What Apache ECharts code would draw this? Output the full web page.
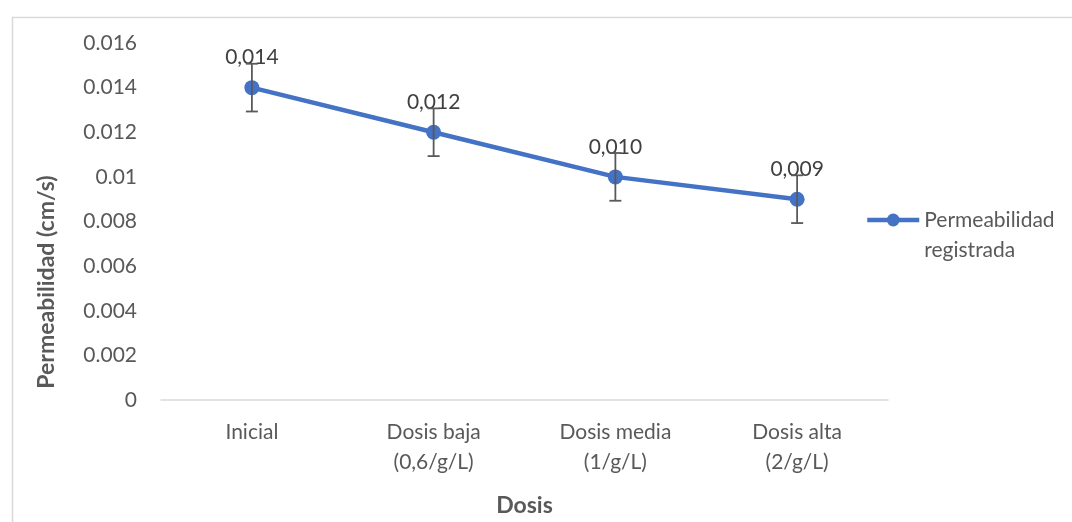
<!DOCTYPE html>
<html><head><meta charset="utf-8">
<script src="https://cdn.jsdelivr.net/npm/echarts@6/dist/echarts.min.js"></script>
<style>html,body{margin:0;padding:0;background:#fff}#c{width:1072px;height:522px}</style>
</head><body><div id="c"></div>
<script>
const categories = ['Inicial', 'Dosis baja\n(0,6/g/L)', 'Dosis media\n(1/g/L)', 'Dosis alta\n(2/g/L)'];
const permeabilidad = [0.014, 0.012, 0.010, 0.009];
const errorAmount = [0.00107, 0.00107, 0.00107, 0.00107];
const yTicks = { min: 0, max: 0.016, interval: 0.002 };

const FONT = 'Lato, "Noto Sans", sans-serif';
const chart = echarts.init(document.getElementById('c'));
const errData = permeabilidad.map((v, i) => [i, v - errorAmount[i], v + errorAmount[i]]);

chart.setOption({
  animation: false,
  graphic: [
    { type: 'rect', left: 10, top: 15, shape: { width: 1100, height: 600 }, style: { fill: 'none', stroke: '#D9D9D9', lineWidth: 1.5 }, silent: true },
    { type: 'text', x: 47, y: 282, rotation: Math.PI / 2, silent: true,
      style: { text: 'Permeabilidad (cm/s)', fontFamily: FONT, fontSize: 23, fontWeight: 'bold', fill: '#595959', align: 'center', verticalAlign: 'middle' } }
  ],
  grid: { left: 161, right: 184, top: 43, bottom: 122 },
  legend: {
    data: [{ name: 'Permeabilidad registrada' }],
    formatter: () => '\nPermeabilidad\nregistrada',
    left: 865, top: 175, orient: 'vertical', padding: 0,
    itemWidth: 52, itemHeight: 16, itemGap: 10,
    lineStyle: { width: 4.5 },
    textStyle: { fontFamily: FONT, fontSize: 21, color: '#595959', lineHeight: 30 }
  },
  xAxis: {
    type: 'category', data: categories, boundaryGap: true,
    name: 'Dosis', nameLocation: 'middle', nameGap: 94,
    nameTextStyle: { fontFamily: FONT, fontSize: 23, fontWeight: 'bold', color: '#595959' },
    axisLine: { lineStyle: { color: '#D9D9D9', width: 1.5 } },
    axisTick: { show: false },
    axisLabel: { fontFamily: FONT, fontSize: 21, color: '#595959', margin: 17, lineHeight: 30 }
  },
  yAxis: {
    type: 'value', min: yTicks.min, max: yTicks.max, interval: yTicks.interval,
    axisLine: { show: false }, axisTick: { show: false }, splitLine: { show: false },
    axisLabel: { fontFamily: FONT, fontSize: 21, color: '#595959', margin: 24 }
  },
  series: [
    {
      name: 'Permeabilidad registrada', type: 'line', data: permeabilidad,
      symbol: 'circle', symbolSize: 15, z: 3,
      lineStyle: { color: '#4472C4', width: 4.5 },
      itemStyle: { color: '#4472C4' },
      label: { show: true, position: 'top', distance: 12, formatter: p => p.value.toFixed(3).replace('.', ','),
        fontFamily: FONT, fontSize: 21, color: '#404040' }
    },
    {
      name: 'err', type: 'custom', data: errData, z: 4,
      renderItem: (params, api) => {
        const x = api.value(0);
        const lo = api.coord([x, api.value(1)]);
        const hi = api.coord([x, api.value(2)]);
        const w = 6;
        const st = { stroke: '#595959', lineWidth: 1.8 };
        return { type: 'group', children: [
          { type: 'line', shape: { x1: lo[0], y1: lo[1], x2: hi[0], y2: hi[1] }, style: st },
          { type: 'line', shape: { x1: lo[0] - w, y1: lo[1], x2: lo[0] + w, y2: lo[1] }, style: st },
          { type: 'line', shape: { x1: hi[0] - w, y1: hi[1], x2: hi[0] + w, y2: hi[1] }, style: st }
        ]};
      }
    }
  ]
});
</script></body></html>
